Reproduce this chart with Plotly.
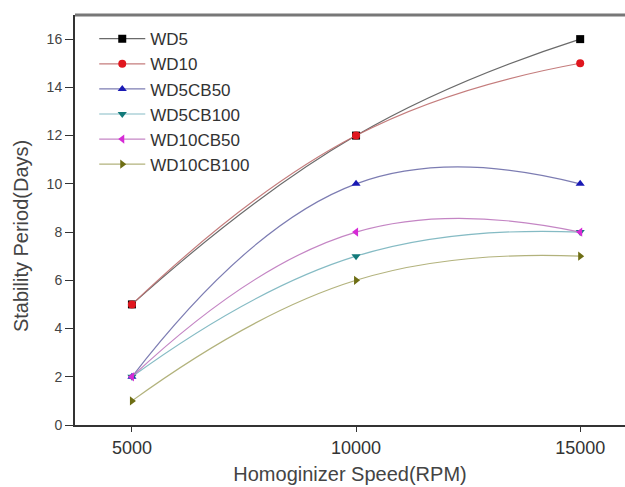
import plotly.graph_objects as go

speeds = [5000, 10000, 15000]
names = ["WD5", "WD10", "WD5CB50", "WD5CB100", "WD10CB50", "WD10CB100"]
wd5 = [5, 12, 16]
wd10 = [5, 12, 15]
wd5cb50 = [2, 10, 10]
wd5cb100 = [2, 7, 8]
wd10cb50 = [2, 8, 8]
wd10cb100 = [1, 6, 7]
series = [wd5, wd10, wd5cb50, wd5cb100, wd10cb50, wd10cb100]

marker_colors = ["#000000", "#e0161e", "#1a1ab4", "#127a7a", "#d62ad6", "#6e6e14"]
line_colors = ["rgba(90,90,90,0.9)", "rgba(190,110,110,0.9)", "rgba(110,110,170,0.9)",
               "rgba(120,180,190,0.9)", "rgba(190,120,190,0.9)", "rgba(170,170,110,0.9)"]
symbols = ["square", "circle", "triangle-up", "triangle-down", "triangle-left", "triangle-right"]

fig = go.Figure()
for n, ys, mc, lc, sym in zip(names, series, marker_colors, line_colors, symbols):
    fig.add_trace(go.Scatter(
        x=speeds, y=ys, name=n, mode="lines+markers",
        line=dict(color=lc, width=1.2, shape="spline", smoothing=1.3),
        marker=dict(color=mc, symbol=sym, size=8, line=dict(width=0)),
    ))

fig.update_layout(
    width=625, height=487,
    margin=dict(l=75, r=0, t=15, b=62),
    plot_bgcolor="white", paper_bgcolor="white",
    font=dict(family="Liberation Sans, Arial, sans-serif", color="#333333", size=13),
    showlegend=True,
    legend=dict(x=0.035, y=0.985, xanchor="left", yanchor="top",
                bgcolor="rgba(0,0,0,0)", font=dict(size=17, color="#333333"),
                itemwidth=46, tracegroupgap=0),
    xaxis=dict(range=[3730, 16000], tickvals=speeds, ticktext=["5000", "10000", "15000"],
               showgrid=False, zeroline=False, showline=True, linecolor="#333333", linewidth=2,
               ticks="outside", ticklen=5, tickcolor="#333333",
               title=dict(text="Homoginizer Speed(RPM)", font=dict(size=20, color="#444444"), standoff=10),
               tickfont=dict(size=18, color="#333333")),
    yaxis=dict(range=[0, 17], tickvals=list(range(0, 17, 2)),
               showgrid=False, zeroline=False, showline=True, linecolor="#333333", linewidth=2,
               ticks="outside", ticklen=8, tickcolor="#333333",
               tickfont=dict(size=14, color="#444444")),
    annotations=[dict(text="Stability Period(Days)", xref="paper", yref="paper",
                      x=-0.098, y=0.461, xanchor="center", yanchor="middle",
                      textangle=-90, showarrow=False,
                      font=dict(size=20, color="#444444"))],
)
fig.add_shape(type="line", xref="paper", yref="paper", x0=0, x1=1, y0=1, y1=1,
              line=dict(color="#777777", width=3))
fig.write_html("out.html")
